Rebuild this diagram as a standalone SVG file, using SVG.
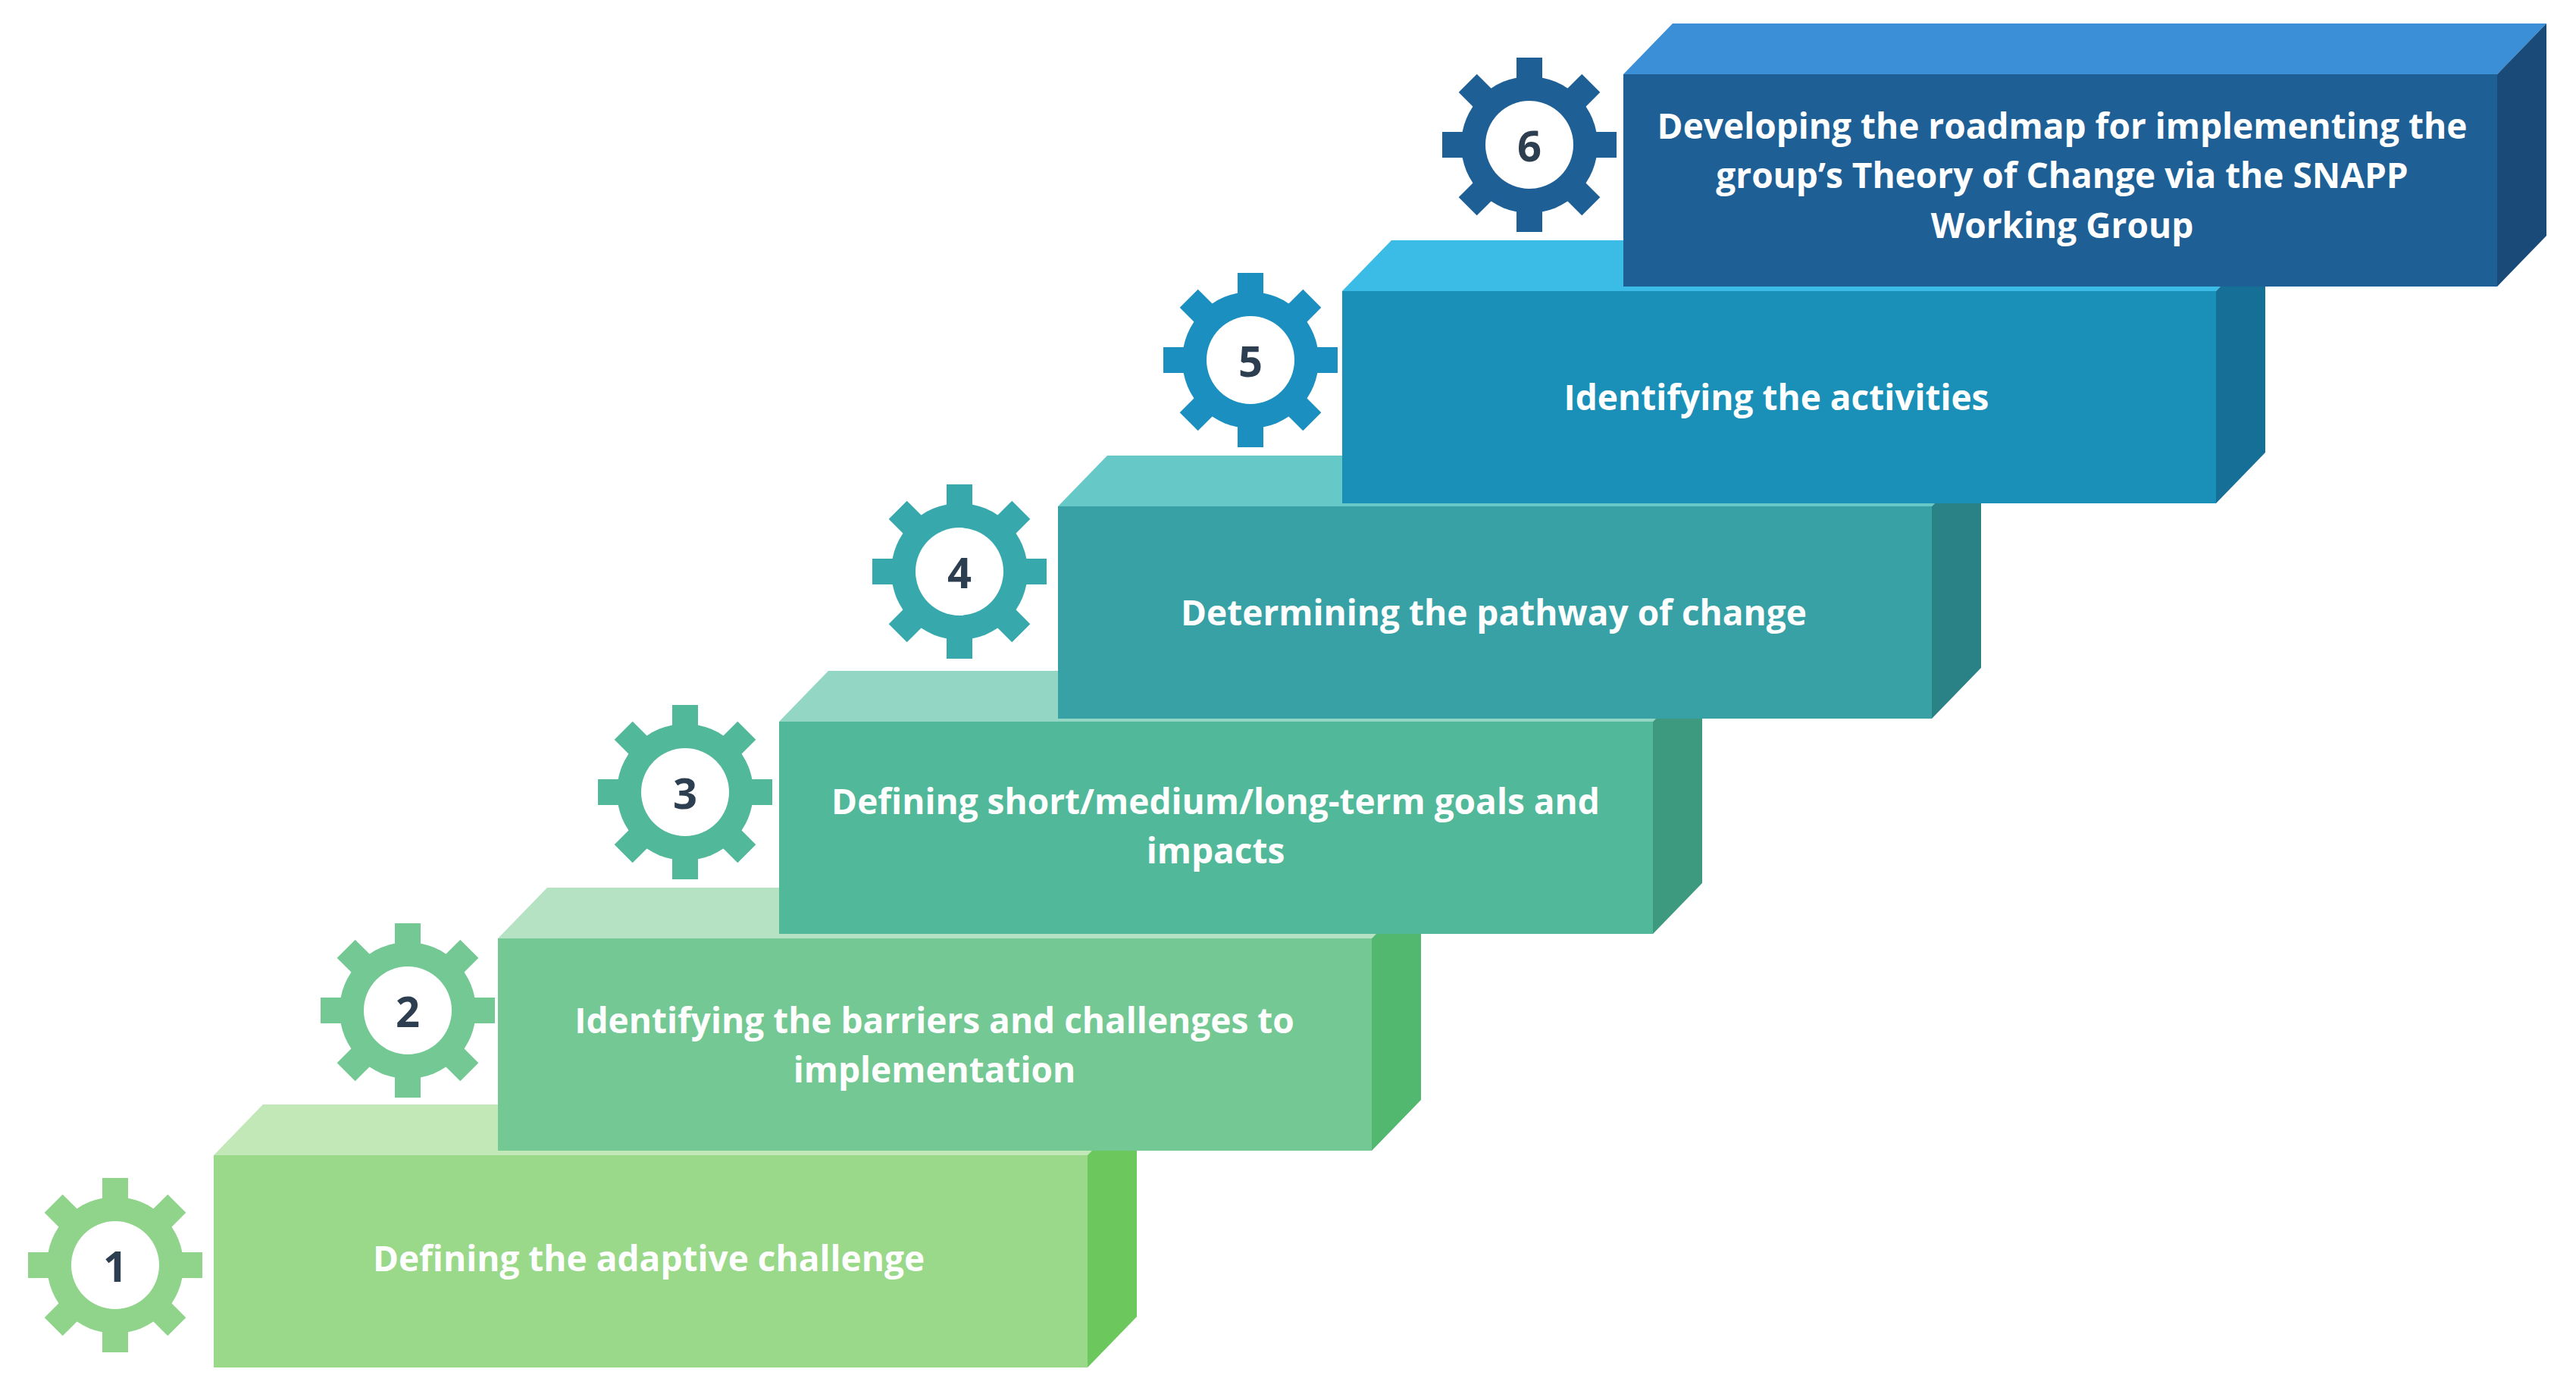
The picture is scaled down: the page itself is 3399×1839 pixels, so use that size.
<svg xmlns="http://www.w3.org/2000/svg" width="3399" height="1839" viewBox="0 0 3399 1839">
<style>
.lbl{font-family:"Open Sans","Liberation Sans",sans-serif;font-weight:bold;font-size:46px;fill:#fff;text-anchor:middle;dominant-baseline:middle}
.num{font-family:"Open Sans","Liberation Sans",sans-serif;font-weight:bold;font-size:56px;fill:#2d3e50;text-anchor:middle;dominant-baseline:central}
</style>
<defs>
<g id="gear">
<g fill="currentColor">
<circle r="90"/>
<rect x="-17" y="-115" width="34" height="60"/>
<rect x="-17" y="-115" width="34" height="60" transform="rotate(45)"/>
<rect x="-17" y="-115" width="34" height="60" transform="rotate(90)"/>
<rect x="-17" y="-115" width="34" height="60" transform="rotate(135)"/>
<rect x="-17" y="-115" width="34" height="60" transform="rotate(180)"/>
<rect x="-17" y="-115" width="34" height="60" transform="rotate(225)"/>
<rect x="-17" y="-115" width="34" height="60" transform="rotate(270)"/>
<rect x="-17" y="-115" width="34" height="60" transform="rotate(315)"/>
</g>
<circle r="58" fill="#fff"/>
</g>
</defs>
<rect width="3399" height="1839" fill="#fff"/>
<g id="connectors"/>

<g id="step1">
<polygon points="282,1524 347,1457 1500,1457 1435,1524" fill="#c3e8b8"/>
<polygon points="1435,1524 1500,1457 1500,1737 1435,1804" fill="#6cc85c"/>
<rect x="282" y="1524" width="1153" height="280" fill="#9ad88a"/>
<text class="lbl" x="856" y="1665">Defining the adaptive challenge</text>
</g>
<g id="step2">
<polygon points="657,1238 722,1171 1875,1171 1810,1238" fill="#b5e2c3"/>
<polygon points="1810,1238 1875,1171 1875,1451 1810,1518" fill="#52b870"/>
<rect x="657" y="1238" width="1153" height="280" fill="#74c893"/>
<text class="lbl" x="1233" y="1351">Identifying the barriers and challenges to</text>
<text class="lbl" x="1233" y="1416">implementation</text>
</g>
<g id="step3">
<polygon points="1028,952 1093,885 2246,885 2181,952" fill="#92d6c3"/>
<polygon points="2181,952 2246,885 2246,1165 2181,1232" fill="#3e9a7e"/>
<rect x="1028" y="952" width="1153" height="280" fill="#52b89a"/>
<text class="lbl" x="1604" y="1062">Defining short/medium/long-term goals and</text>
<text class="lbl" x="1604" y="1127">impacts</text>
</g>
<g id="step4">
<polygon points="1396,668 1461,601 2614,601 2549,668" fill="#67c8c8"/>
<polygon points="2549,668 2614,601 2614,881 2549,948" fill="#2a8286"/>
<rect x="1396" y="668" width="1153" height="280" fill="#37a1a6"/>
<text class="lbl" x="1971" y="813">Determining the pathway of change</text>
</g>
<g id="step5">
<polygon points="1771,384 1836,317 2989,317 2924,384" fill="#3bbce6"/>
<polygon points="2924,384 2989,317 2989,597 2924,664" fill="#156f96"/>
<rect x="1771" y="384" width="1153" height="280" fill="#1a8fb8"/>
<text class="lbl" x="2344" y="529">Identifying the activities</text>
</g>
<g id="step6">
<polygon points="2142,98 2207,31 3360,31 3295,98" fill="#3a8fd6"/>
<polygon points="3295,98 3360,31 3360,311 3295,378" fill="#1a4a78"/>
<rect x="2142" y="98" width="1153" height="280" fill="#1e5f96"/>
<text class="lbl" x="2721" y="171">Developing the roadmap for implementing the</text>
<text class="lbl" x="2721" y="236">group’s Theory of Change via the SNAPP</text>
<text class="lbl" x="2721" y="302">Working Group</text>
</g>

<g id="gear1"><use href="#gear" x="152" y="1669" style="color:#8fd48a"/><text class="num" x="152" y="1669">1</text></g>
<g id="gear2"><use href="#gear" x="538" y="1333" style="color:#74c893"/><text class="num" x="538" y="1333">2</text></g>
<g id="gear3"><use href="#gear" x="904" y="1045" style="color:#52b89a"/><text class="num" x="904" y="1045">3</text></g>
<g id="gear4"><use href="#gear" x="1266" y="754" style="color:#37a9ad"/><text class="num" x="1266" y="754">4</text></g>
<g id="gear5"><use href="#gear" x="1650" y="475" style="color:#1a8fc0"/><text class="num" x="1650" y="475">5</text></g>
<g id="gear6"><use href="#gear" x="2018" y="191" style="color:#1e5f96"/><text class="num" x="2018" y="191">6</text></g>
</svg>
